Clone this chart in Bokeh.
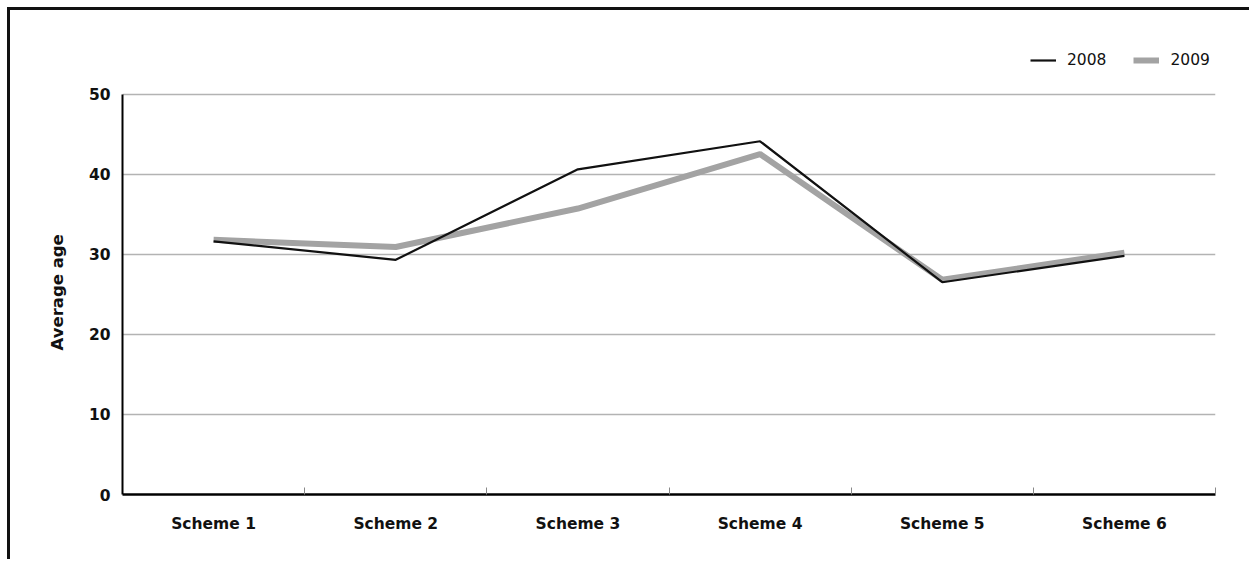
from bokeh.plotting import figure
from bokeh.models import Range1d, FixedTicker, Legend, LegendItem, ColumnDataSource, Title
from bokeh.embed import file_html
from bokeh.resources import INLINE

# Average age of members per scheme, 2008 vs 2009
schemes = ["Scheme 1", "Scheme 2", "Scheme 3", "Scheme 4", "Scheme 5", "Scheme 6"]
age_2008 = [31.6, 29.3, 40.6, 44.1, 26.5, 29.8]
age_2009 = [31.8, 30.9, 35.7, 42.5, 26.8, 30.2]
y_ticks = [0, 10, 20, 30, 40, 50]

# schemes sit at the middle of equal-width slots
xpos = [i + 0.5 for i in range(len(schemes))]
src = ColumnDataSource(dict(x=xpos, a2008=age_2008, a2009=age_2009))

FONT = "DejaVu Sans"

# the frame runs a little above 50 so the legend can sit inside it,
# while the axis line itself stops at 50
p = figure(
    width=1242, height=552,
    x_range=Range1d(0, len(schemes)), y_range=Range1d(0, 56.68),
    output_backend="svg", toolbar_location=None,
    min_border_left=112, min_border_right=37,
    min_border_top=30, min_border_bottom=68,
)
p.styles = {
    "margin-left": "7px", "margin-top": "7px",
    "border-left": "3px solid #111", "border-top": "3px solid #111",
}
p.outline_line_color = None
p.background_fill_color = "white"
p.border_fill_color = "white"

# grid
p.xgrid.visible = False
p.ygrid.grid_line_color = "#b3b3b3"
p.ygrid.grid_line_width = 1.5

# y axis
p.yaxis.ticker = FixedTicker(ticks=y_ticks)
p.yaxis.bounds = (0, 50)
p.yaxis.axis_line_color = "black"
p.yaxis.axis_line_width = 2
p.yaxis.major_tick_line_color = None
p.yaxis.minor_tick_line_color = None
p.yaxis.major_label_standoff = 6
p.yaxis.major_label_text_font = FONT
p.yaxis.major_label_text_font_style = "bold"
p.yaxis.major_label_text_font_size = "15.5px"
p.yaxis.major_label_text_color = "#111"

# y-axis caption, centred on the 0-50 span rather than the whole frame
ylabel = Title(
    text="Average age", align="left", offset=144, standoff=38,
    text_font=FONT, text_font_style="bold", text_font_size="16.5px",
    text_color="#111",
)
p.add_layout(ylabel, "left")

# x axis: labels at slot centres, small ticks at slot boundaries
p.xaxis.ticker = FixedTicker(ticks=xpos, minor_ticks=list(range(len(schemes) + 1)))
p.xaxis.major_label_overrides = {x: s for x, s in zip(xpos, schemes)}
p.xaxis.axis_line_color = "black"
p.xaxis.axis_line_width = 2.5
p.xaxis.major_tick_line_color = None
p.xaxis.minor_tick_line_color = "#888888"
p.xaxis.minor_tick_line_width = 1
p.xaxis.minor_tick_in = 7
p.xaxis.minor_tick_out = 0
p.xaxis.major_label_standoff = 14
p.xaxis.major_label_text_font = FONT
p.xaxis.major_label_text_font_style = "bold"
p.xaxis.major_label_text_font_size = "15.5px"
p.xaxis.major_label_text_color = "#111"

r2009 = p.line("x", "a2009", source=src, line_color="#a3a3a3", line_width=6)
r2008 = p.line("x", "a2008", source=src, line_color="#111111", line_width=2.2)

# legend in the strip above the 50 line, right-aligned with the frame
legend = Legend(
    items=[LegendItem(label="2008", renderers=[r2008]),
           LegendItem(label="2009", renderers=[r2009])],
    orientation="horizontal", location=(908, 424),
    padding=0, margin=0, spacing=27,
    glyph_width=26, glyph_height=20, label_height=20,
    label_standoff=11,
    label_text_font=FONT, label_text_font_size="15.5px", label_text_color="#111",
    border_line_color=None, background_fill_alpha=0,
)
p.add_layout(legend, "center")

open("out.html", "w").write(file_html(p, INLINE))
